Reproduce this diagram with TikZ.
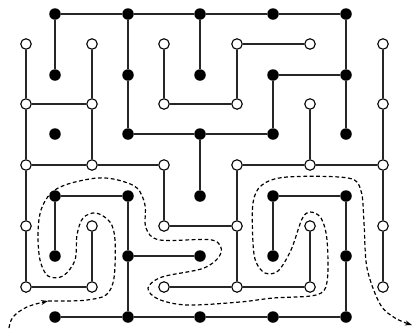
\documentclass[tikz,border=0pt]{standalone}
\usetikzlibrary{arrows.meta}
\begin{document}
\begin{tikzpicture}[x=1pt,y=-1pt,
  bdot/.style={circle,fill=black,inner sep=0pt,minimum size=11.5pt},
  wdot/.style={circle,draw=black,fill=white,line width=1.1pt,inner sep=0pt,minimum size=10.5pt},
  edge/.style={line width=1.4pt,draw=black!85},
  path/.style={line width=1.2pt,dash pattern=on 3.8pt off 2.6pt},
  tip/.style={-{Stealth[length=7pt,width=5pt]}}]
\useasboundingbox (0,0) rectangle (414,333);
% black lattice
\foreach \i/\x in {0/55,1/128,2/200,3/273,4/346}{
  \foreach \j/\y in {0/14,1/75,2/134,3/196,4/256,5/317}{
    \node[bdot] (b\i\j) at (\x,\y) {};
  }
}
% white lattice
\foreach \i/\x in {0/26,1/92,2/164,3/237,4/310,5/383}{
  \foreach \j/\y in {0/44,1/104,2/165,3/226,4/287}{
    \node[wdot] (w\i\j) at (\x,\y) {};
  }
}
% black edges
\foreach \a/\b in {b00/b10,b10/b20,b20/b30,b30/b40,
  b31/b41, b12/b22,b22/b32, b03/b13,b33/b43, b14/b24,
  b05/b15,b15/b25,b25/b35,b35/b45,
  b00/b01, b03/b04, b10/b11,b11/b12, b13/b14,b14/b15,
  b20/b21, b22/b23, b31/b32, b33/b34,
  b40/b41,b41/b42, b43/b44,b44/b45}{
  \draw[edge] (\a) -- (\b);
}
% white edges
\foreach \a/\b in {w30/w40, w01/w11, w21/w31, w02/w12,w12/w22,
  w32/w42,w42/w52, w23/w33, w04/w14, w24/w34,w34/w44,
  w00/w01,w01/w02,w02/w03,w03/w04,
  w10/w11,w11/w12, w13/w14, w20/w21, w22/w23,
  w30/w31, w32/w33,w33/w34, w41/w42, w43/w44,
  w50/w51,w51/w52,w52/w53,w53/w54}{
  \draw[edge] (\a) -- (\b);
}
% dashed interface
\coordinate (s) at (9,328);
\coordinate (m) at (48,301);
\coordinate (e) at (412,325);
\draw[path,tip] plot[smooth,tension=0.6] coordinates {(s) (13,317) (27,307) (m)};
\draw[path,tip] plot[smooth,tension=0.55] coordinates {(m) (67,301) (87,300) (106,295)
  (114,278) (115,240) (110,222) (96,213) (83,218) (77,235) (75,260) (63,276)
  (48,276) (40,260) (38,233) (41,210) (51,193) (68,184) (97,178) (118,180)
  (137,188) (145,205) (146,228) (160,240) (212,240) (221,253) (204,268)
  (162,277) (148,288) (158,299) (187,305) (240,302) (273,298) (316,295)
  (327,282) (327,240) (321,218) (310,212) (302,219) (291,250) (278,271)
  (265,273) (256,262) (253,243) (253,203) (262,185) (287,177) (348,178)
  (361,191) (364,223) (367,268) (380,304) (395,318) (e)};
\end{tikzpicture}
\end{document}
